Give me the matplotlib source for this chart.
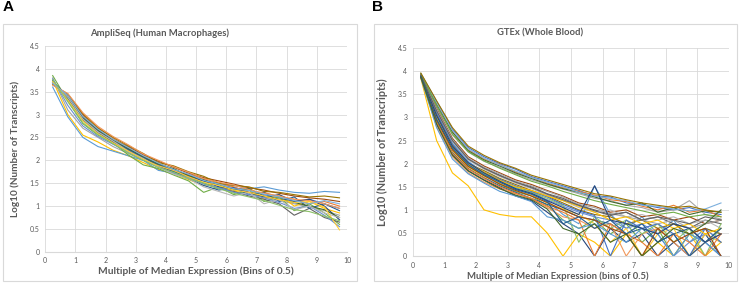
import matplotlib
matplotlib.use('Agg')
import matplotlib.pyplot as plt
from matplotlib.patches import Rectangle

plt.rcParams['font.family'] = ['Lato', 'DejaVu Sans']

# bin centres (multiple of median, bins of 0.5)
bins = [0.25, 0.75, 1.25, 1.75, 2.25, 2.75, 3.25, 3.75, 4.25, 4.75,
        5.25, 5.75, 6.25, 6.75, 7.25, 7.75, 8.25, 8.75, 9.25, 9.75]

# panel A: AmpliSeq (human macrophages), one list per sample
ampliseq = [
    [3.70, 3.40, 2.95, 2.68, 2.45, 2.25, 2.08, 1.92, 1.80, 1.68, 1.55, 1.48, 1.40, 1.35, 1.25, 1.18, 1.10, 1.15, 1.05, 0.95],
    [3.65, 3.45, 3.00, 2.72, 2.48, 2.28, 2.10, 1.95, 1.78, 1.70, 1.60, 1.50, 1.42, 1.30, 1.30, 1.20, 1.15, 1.05, 1.10, 1.00],
    [3.80, 3.10, 2.70, 2.50, 2.30, 2.15, 2.00, 1.85, 1.75, 1.62, 1.50, 1.40, 1.35, 1.28, 1.20, 1.12, 1.05, 0.98, 0.90, 0.80],
    [3.75, 3.00, 2.55, 2.40, 2.22, 2.10, 1.95, 1.80, 1.70, 1.58, 1.45, 1.50, 1.30, 1.40, 1.15, 1.25, 1.00, 1.10, 0.95, 0.85],
    [3.60, 2.95, 2.50, 2.30, 2.20, 2.10, 2.00, 1.78, 1.72, 1.60, 1.55, 1.50, 1.45, 1.38, 1.42, 1.35, 1.30, 1.28, 1.32, 1.30],
    [3.85, 3.30, 2.80, 2.55, 2.38, 2.12, 1.90, 1.82, 1.68, 1.55, 1.30, 1.42, 1.25, 1.35, 1.10, 1.20, 0.90, 1.05, 0.85, 0.60],
    [3.70, 3.38, 2.92, 2.62, 2.40, 2.20, 2.05, 1.88, 1.75, 1.65, 1.55, 1.42, 1.38, 1.30, 1.20, 1.25, 1.10, 1.15, 1.00, 0.70],
    [3.68, 3.42, 2.98, 2.66, 2.45, 2.30, 2.12, 1.98, 1.85, 1.72, 1.62, 1.55, 1.48, 1.40, 1.35, 1.28, 1.22, 1.18, 1.15, 1.10],
    [3.72, 3.35, 2.88, 2.60, 2.40, 2.22, 2.02, 1.90, 1.78, 1.65, 1.50, 1.38, 1.32, 1.22, 1.15, 1.05, 0.80, 0.95, 0.75, 0.65],
    [3.66, 3.44, 3.02, 2.70, 2.50, 2.32, 2.15, 1.95, 1.88, 1.75, 1.65, 1.50, 1.45, 1.42, 1.32, 1.30, 1.25, 1.20, 1.22, 1.18],
    [3.74, 3.36, 2.90, 2.64, 2.42, 2.24, 2.06, 1.90, 1.76, 1.60, 1.45, 1.35, 1.40, 1.25, 1.30, 1.10, 1.20, 0.95, 1.05, 0.90],
    [3.70, 3.40, 2.94, 2.66, 2.44, 2.26, 2.08, 1.92, 1.82, 1.66, 1.58, 1.46, 1.35, 1.38, 1.22, 1.15, 1.08, 1.00, 0.92, 0.75],
    [3.78, 3.20, 2.75, 2.52, 2.35, 2.18, 2.00, 1.86, 1.72, 1.62, 1.48, 1.40, 1.30, 1.25, 1.18, 1.08, 0.95, 1.00, 0.80, 0.55],
    [3.64, 3.46, 3.04, 2.74, 2.52, 2.34, 2.14, 2.00, 1.86, 1.74, 1.60, 1.52, 1.46, 1.36, 1.28, 1.22, 1.15, 1.12, 1.05, 0.95],
    [3.70, 3.38, 2.90, 2.62, 2.42, 2.20, 2.04, 1.85, 1.70, 1.60, 1.42, 1.32, 1.22, 1.30, 1.05, 1.15, 0.92, 1.00, 0.85, 0.75],
    [3.72, 3.32, 2.86, 2.58, 2.38, 2.20, 2.02, 1.88, 1.78, 1.64, 1.52, 1.45, 1.35, 1.30, 1.22, 1.14, 1.08, 1.10, 0.98, 0.48],
    [3.68, 3.42, 2.96, 2.68, 2.46, 2.28, 2.10, 1.94, 1.80, 1.70, 1.56, 1.48, 1.38, 1.34, 1.26, 1.20, 1.12, 1.05, 1.12, 1.05],
    [3.76, 3.28, 2.82, 2.56, 2.36, 2.16, 2.00, 1.84, 1.74, 1.60, 1.50, 1.38, 1.28, 1.20, 1.12, 1.02, 0.92, 0.88, 0.78, 0.68],
]

# panel B: GTEx (whole blood), one list per sample
gtex = [
    [3.95, 3.35, 2.75, 2.35, 2.15, 2.00, 1.88, 1.72, 1.62, 1.52, 1.42, 1.30, 1.28, 1.15, 1.12, 1.05, 1.00, 1.05, 0.95, 0.90],
    [3.90, 3.30, 2.70, 2.30, 2.10, 1.98, 1.82, 1.70, 1.58, 1.48, 1.40, 1.32, 1.22, 1.18, 1.08, 1.00, 1.10, 0.95, 1.00, 0.85],
    [3.88, 3.25, 2.62, 2.25, 2.05, 1.92, 1.78, 1.65, 1.55, 1.45, 1.35, 1.25, 1.20, 1.10, 1.05, 0.95, 1.00, 1.20, 0.90, 0.80],
    [3.85, 2.50, 1.80, 1.52, 1.00, 0.90, 0.85, 0.85, 0.50, 0.00, 0.48, 0.30, 0.00, 0.48, 0.00, 0.30, 0.00, 0.48, 0.00, 0.30],
    [3.92, 3.10, 2.45, 2.05, 1.80, 1.65, 1.50, 1.40, 1.20, 0.90, 0.70, 1.52, 0.90, 0.60, 0.85, 0.48, 0.78, 0.30, 0.60, 0.48],
    [3.90, 2.95, 2.30, 1.95, 1.75, 1.55, 1.40, 1.30, 1.10, 0.78, 0.60, 0.78, 0.48, 0.70, 0.30, 0.60, 0.00, 0.48, 0.30, 0.60],
    [3.88, 2.85, 2.20, 1.85, 1.65, 1.48, 1.30, 1.20, 0.95, 0.70, 0.48, 0.00, 0.60, 0.30, 0.48, 0.00, 0.30, 0.00, 0.48, 0.00],
    [3.93, 3.20, 2.55, 2.15, 1.95, 1.80, 1.65, 1.55, 1.42, 1.30, 1.15, 1.08, 0.95, 1.00, 0.85, 0.90, 0.78, 0.85, 0.70, 0.78],
    [3.91, 3.15, 2.50, 2.10, 1.90, 1.75, 1.60, 1.50, 1.35, 1.25, 1.10, 1.00, 0.90, 0.95, 0.78, 0.85, 0.70, 0.60, 0.78, 0.70],
    [3.89, 3.05, 2.40, 2.00, 1.85, 1.68, 1.55, 1.42, 1.30, 1.15, 1.00, 0.90, 0.85, 0.70, 0.78, 0.60, 0.70, 0.48, 0.60, 0.48],
    [3.87, 2.90, 2.25, 1.90, 1.70, 1.52, 1.38, 1.25, 1.12, 1.00, 0.85, 0.78, 0.70, 0.48, 0.60, 0.30, 0.48, 0.60, 0.30, 0.00],
    [3.94, 3.28, 2.68, 2.28, 2.08, 1.95, 1.80, 1.68, 1.56, 1.46, 1.38, 1.28, 1.18, 1.10, 1.15, 0.95, 1.05, 0.90, 0.98, 0.95],
    [3.90, 3.00, 2.35, 1.98, 1.78, 1.62, 1.45, 1.35, 1.22, 1.08, 0.95, 0.85, 0.78, 0.60, 0.70, 0.48, 0.00, 0.30, 0.48, 0.30],
    [3.86, 2.80, 2.15, 1.80, 1.60, 1.45, 1.35, 1.25, 1.05, 0.85, 0.78, 0.60, 0.70, 0.00, 0.48, 0.60, 0.30, 0.00, 0.30, 0.48],
    [3.92, 3.12, 2.48, 2.08, 1.88, 1.72, 1.58, 1.46, 1.32, 1.20, 1.05, 0.95, 1.00, 0.85, 0.90, 0.78, 0.85, 0.70, 0.78, 0.60],
    [3.88, 2.92, 2.28, 1.92, 1.72, 1.58, 1.42, 1.32, 1.15, 1.02, 0.90, 0.70, 0.30, 0.60, 0.00, 0.48, 0.60, 0.00, 0.48, 0.30],
    [3.95, 3.32, 2.72, 2.32, 2.12, 1.97, 1.84, 1.70, 1.60, 1.50, 1.38, 1.30, 1.25, 1.20, 1.10, 1.08, 1.02, 0.98, 1.02, 1.15],
    [3.89, 2.98, 2.32, 1.95, 1.78, 1.60, 1.48, 1.38, 1.25, 1.10, 0.30, 0.85, 0.60, 0.78, 0.48, 0.70, 0.30, 0.60, 0.00, 0.70],
    [3.90, 3.08, 2.42, 2.02, 1.82, 1.66, 1.52, 1.40, 1.28, 1.12, 0.98, 0.88, 0.00, 0.78, 0.60, 0.70, 0.48, 0.00, 0.60, 0.30],
    [3.87, 2.88, 2.22, 1.88, 1.68, 1.50, 1.36, 1.24, 1.08, 0.95, 0.78, 0.00, 0.70, 0.48, 0.30, 0.00, 0.48, 0.30, 0.00, 0.48],
    [3.93, 3.18, 2.52, 2.12, 1.92, 1.78, 1.62, 1.52, 1.40, 1.28, 1.12, 1.05, 0.92, 0.85, 0.78, 0.70, 0.78, 0.60, 0.70, 0.78],
    [3.91, 3.02, 2.38, 2.00, 1.82, 1.64, 1.50, 1.42, 1.30, 1.20, 1.08, 0.95, 0.78, 0.85, 0.70, 0.78, 0.60, 0.70, 0.48, 0.60],
    [3.86, 2.78, 2.10, 1.78, 1.58, 1.40, 1.30, 1.18, 0.85, 0.78, 0.60, 0.70, 0.48, 0.30, 0.60, 0.48, 0.00, 0.48, 0.30, 0.00],
    [3.94, 3.26, 2.64, 2.26, 2.06, 1.90, 1.76, 1.62, 1.52, 1.40, 1.30, 1.20, 1.12, 1.05, 0.98, 0.90, 0.95, 0.85, 0.90, 0.85],
    [3.90, 3.04, 2.38, 2.02, 1.80, 1.62, 1.46, 1.36, 1.20, 1.05, 0.90, 1.52, 0.78, 0.70, 0.60, 0.48, 0.70, 0.60, 0.30, 0.48],
    [3.88, 2.94, 2.30, 1.94, 1.74, 1.56, 1.42, 1.30, 1.16, 1.00, 0.85, 0.78, 0.60, 0.48, 0.00, 0.60, 0.30, 0.48, 0.60, 0.00],
    [3.92, 3.14, 2.50, 2.10, 1.90, 1.74, 1.60, 1.48, 1.34, 1.22, 1.10, 0.98, 0.88, 0.95, 0.78, 0.85, 0.78, 0.70, 0.85, 0.78],
    [3.96, 3.36, 2.78, 2.38, 2.18, 2.02, 1.90, 1.75, 1.65, 1.55, 1.45, 1.35, 1.30, 1.22, 1.15, 1.10, 1.05, 1.08, 1.00, 0.95],
    [3.89, 2.96, 2.34, 1.98, 1.76, 1.60, 1.44, 1.34, 1.18, 0.70, 0.85, 0.60, 0.78, 0.48, 0.70, 0.30, 0.48, 0.00, 0.30, 0.60],
    [3.87, 2.86, 2.18, 1.84, 1.64, 1.46, 1.32, 1.22, 1.02, 0.60, 0.48, 0.70, 0.30, 0.48, 0.00, 0.30, 0.60, 0.48, 0.70, 1.00],
]

# excel office palette
palette = ['#4472C4', '#ED7D31', '#A5A5A5', '#FFC000', '#5B9BD5', '#70AD47',
           '#264478', '#9E480E', '#636363', '#997300', '#255E91', '#43682B',
           '#698ED0', '#F1975A', '#B7B7B7', '#FFCD33', '#7CAFDD', '#8CC168']

fig = plt.figure(figsize=(7.4, 2.83), dpi=100)

# chart area frames
fig.patches.append(Rectangle((0.004, 0.007), 0.478, 0.908, transform=fig.transFigure,
                             fill=False, edgecolor='#d9d9d9', linewidth=0.8))
fig.patches.append(Rectangle((0.506, 0.007), 0.490, 0.908, transform=fig.transFigure,
                             fill=False, edgecolor='#d9d9d9', linewidth=0.8))


def panel(rect, data, title, xlabel, title_x, xl_size, yl_size, xl_x):
    ax = fig.add_axes(rect)
    for i, s in enumerate(data):
        ax.plot(bins, s, color=palette[i % len(palette)], lw=0.8)
    ax.set_xlim(0, 10)
    ax.set_ylim(0, 4.5)
    ax.set_xticks(range(0, 11))
    ax.set_yticks([0, 0.5, 1, 1.5, 2, 2.5, 3, 3.5, 4, 4.5])
    ax.set_yticklabels(['0', '0.5', '1', '1.5', '2', '2.5', '3', '3.5', '4', '4.5'])
    ax.tick_params(length=0, labelsize=5, colors='#595959', pad=4)
    ax.grid(color='#d9d9d9', lw=0.6)
    ax.set_axisbelow(True)
    for sp in ['top', 'right', 'left']:
        ax.spines[sp].set_visible(False)
    ax.spines['bottom'].set_color('#d9d9d9')
    ax.set_xlabel(xlabel, fontsize=xl_size, fontweight='bold', color='#595959')
    ax.xaxis.set_label_coords(xl_x, -0.072)
    ax.set_ylabel('Log10 (Number of Transcripts)', fontsize=yl_size, fontweight='bold',
                  color='#595959', labelpad=7)
    fig.text(title_x, 0.883, title, ha='center', va='center', fontsize=6.8,
             fontweight='bold', color='#595959')
    return ax


panel([0.061, 0.11, 0.408, 0.728], ampliseq, 'AmpliSeq (Human Macrophages)',
      'Multiple of Median Expression (Bins of 0.5)', 0.216, 7.3, 7.2, 0.5)
panel([0.558, 0.095, 0.427, 0.735], gtex, 'GTEx (Whole Blood)',
      'Multiple of Median Expression (bins of 0.5)', 0.73, 6.8, 7.8, 0.46)

fig.text(0.004, 0.975, 'A', fontsize=11, fontweight='bold', va='center', family='Liberation Sans')
fig.text(0.503, 0.975, 'B', fontsize=11, fontweight='bold', va='center', family='Liberation Sans')

fig.savefig('out.png', dpi=100)
